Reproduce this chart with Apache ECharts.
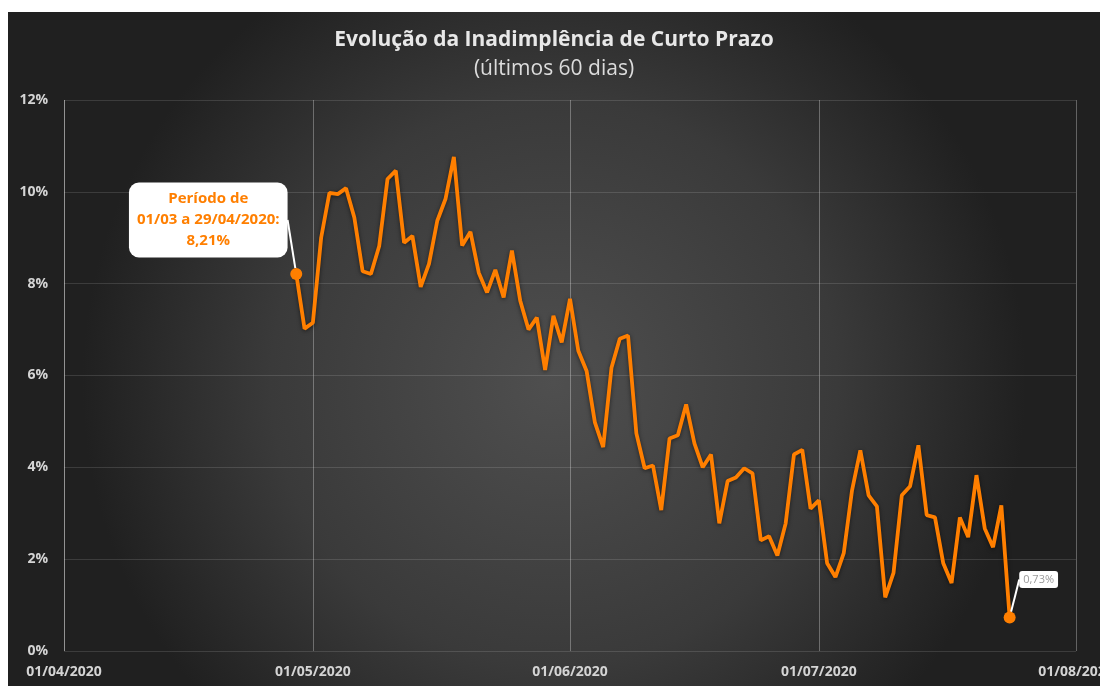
<!DOCTYPE html>
<html>
<head>
<meta charset="utf-8">
<script src="https://cdn.jsdelivr.net/npm/echarts@6/dist/echarts.min.js"></script>
<style>
  html, body { margin: 0; padding: 0; background: #fff; }
  #main { position: absolute; left: 8px; top: 12px; width: 1092px; height: 674px; }
</style>
</head>
<body>
<div id="main"></div>
<script>
// daily values (%) starting at 29/04/2020
var startDate = '2020-04-29';
var values = [
    8.21, 7.02,
    // May
    7.15, 9.00, 9.98, 9.95, 10.08, 9.44, 8.27, 8.21, 8.82, 10.28,
    10.46, 8.89, 9.04, 7.93, 8.43, 9.37, 9.85, 10.76, 8.83, 9.13,
    8.24, 7.81, 8.30, 7.70, 8.72, 7.63, 7.00, 7.26, 6.12, 7.30, 6.72,
    // June
    7.67, 6.54, 6.10, 4.98, 4.44, 6.17, 6.80, 6.87, 4.74, 3.98,
    4.04, 3.07, 4.63, 4.70, 5.37, 4.52, 4.00, 4.28, 2.78, 3.70,
    3.78, 3.98, 3.87, 2.41, 2.50, 2.08, 2.78, 4.28, 4.38, 3.10,
    // July
    3.28, 1.91, 1.61, 2.13, 3.50, 4.37, 3.39, 3.15, 1.17, 1.70,
    3.39, 3.59, 4.48, 2.96, 2.91, 1.91, 1.48, 2.91, 2.48, 3.83,
    2.67, 2.26, 3.17, 0.73
];
var yTicks = [0, 2, 4, 6, 8, 10, 12];
var xMin = '2020-04-01';
var xMax = '2020-08-01';
var firstNote = 'Período de\n01/03 a 29/04/2020:\n8,21%';
var lastNote = '0,73%';

function dayString(i) {
    var d = new Date(startDate + 'T00:00:00');
    d.setDate(d.getDate() + i);
    var m = d.getMonth() + 1, dd = d.getDate();
    return d.getFullYear() + '-' + (m < 10 ? '0' + m : m) + '-' + (dd < 10 ? '0' + dd : dd);
}
var dates = values.map(function (v, i) { return dayString(i); });
var lineData = values.map(function (v, i) { return [dates[i], v]; });
var last = values.length - 1;

var font = 'Open Sans';
var myChart = echarts.init(document.getElementById('main'));
var option = {
    backgroundColor: {
        type: 'radial', x: 0.5, y: 0.55, r: 0.7,
        colorStops: [
            { offset: 0, color: '#4f4f4f' },
            { offset: 0.6, color: '#3a3a3a' },
            { offset: 1, color: '#202020' }
        ]
    },
    title: {
        text: 'Evolução da Inadimplência de Curto Prazo',
        subtext: '(últimos 60 dias)',
        left: 'center',
        top: 13,
        itemGap: 8,
        textStyle: { color: '#e8e8e8', fontFamily: font, fontSize: 21, fontWeight: 'bold' },
        subtextStyle: { color: '#dcdcdc', fontFamily: font, fontSize: 21 }
    },
    grid: { left: 56, right: 24, top: 88, bottom: 35, outerBoundsMode: 'none' },
    xAxis: {
        type: 'time',
        min: xMin,
        max: xMax,
        splitNumber: 4,
        axisLine: { show: false },
        axisTick: { show: false },
        axisLabel: {
            formatter: '{dd}/{MM}/{yyyy}',
            color: '#d4d4d4',
            fontFamily: font,
            fontSize: 14,
            fontWeight: 'bold',
            margin: 14,
            showMinLabel: true,
            showMaxLabel: true,
            hideOverlap: false
        },
        splitLine: { show: true, lineStyle: { color: 'rgba(255,255,255,0.3)', width: 1 } }
    },
    yAxis: {
        type: 'value',
        min: yTicks[0],
        max: yTicks[yTicks.length - 1],
        interval: 2,
        axisLine: { show: false },
        axisTick: { show: false },
        axisLabel: {
            formatter: '{value}%',
            color: '#d4d4d4',
            fontFamily: font,
            fontSize: 14,
            fontWeight: 'bold',
            margin: 16
        },
        splitLine: { lineStyle: { color: 'rgba(255,255,255,0.13)', width: 1 } }
    },
    series: [
        {
            type: 'line',
            data: lineData,
            symbol: 'none',
            lineStyle: {
                color: '#ff7f00',
                width: 3.8,
                shadowColor: 'rgba(0,0,0,0.55)',
                shadowBlur: 4,
                shadowOffsetY: 1
            },
            z: 3
        },
        {
            type: 'scatter',
            symbolSize: 12,
            itemStyle: { color: '#ff7f00', opacity: 1 },
            emphasis: { disabled: true },
            z: 5,
            data: [
                {
                    value: lineData[0],
                    label: {
                        show: true,
                        position: 'inside',
                        formatter: firstNote,
                        color: '#ff7f00',
                        fontFamily: font,
                        fontSize: 15,
                        fontWeight: 'bold',
                        lineHeight: 21,
                        align: 'center',
                        opacity: 1,
                        backgroundColor: '#ffffff',
                        borderRadius: 10,
                        padding: [6, 8]
                    }
                },
                {
                    value: lineData[last],
                    label: {
                        show: true,
                        position: 'inside',
                        formatter: lastNote,
                        color: '#9a9a9a',
                        fontFamily: font,
                        fontSize: 11,
                        opacity: 1,
                        backgroundColor: '#ffffff',
                        borderRadius: 3,
                        padding: [3, 4]
                    }
                }
            ],
            labelLine: {
                show: true,
                lineStyle: { color: '#ffffff', width: 2, opacity: 1 }
            },
            labelLayout: function (p) {
                return p.dataIndex === 0 ? { dx: -88, dy: -54 } : { dx: 29, dy: -38 };
            }
        }
    ]
};
myChart.setOption(option);
</script>
</body>
</html>
